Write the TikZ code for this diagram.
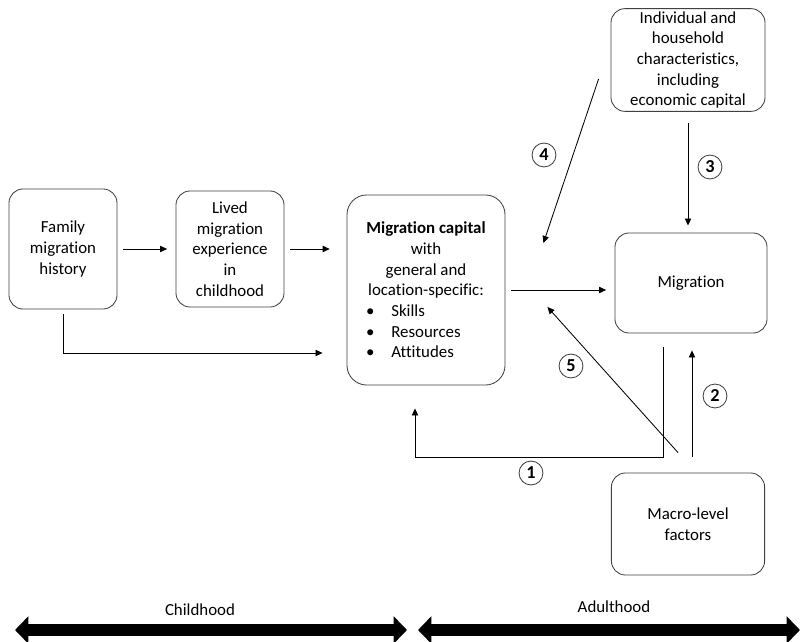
\documentclass[tikz,border=0pt]{standalone}
\usepackage{fontspec}
\setmainfont{Carlito}[Ligatures={NoCommon,NoContextual}]
\usepackage{tikz}
\usetikzlibrary{arrows.meta}
\usetikzlibrary{calc}
\usetikzlibrary{positioning}

\definecolor{boxgray}{HTML}{404040}
\newcommand{\capitem}[1]{\makebox[85pt][l]{\makebox[17.8pt][l]{\textbullet}#1}}

\begin{document}
\begin{tikzpicture}[x=0.025cm, y=-0.025cm,
	font=\fontsize{12pt}{14.7pt}\selectfont,
	lifespan/.style={line width=8.5pt, {Triangle[length=9.5pt,width=19pt]}-{Triangle[length=9.5pt,width=19pt]}}]
	\useasboundingbox (0,0) rectangle (801,642);

	\begin{scope}[every node/.style={draw=boxgray, rounded corners=10pt, align=center, line width=0.6pt, inner sep=2pt}]
		\node[minimum width=2.7cm, minimum height=3cm] (fam) at (63,249) {Family\\migration\\history};
		\node[minimum width=2.7cm, minimum height=2.9cm] (lived) at (230,249) {Lived\\migration\\experience\\in\\childhood};
		\node[minimum width=3.95cm, minimum height=4.75cm, rounded corners=14pt] (cap) at (426,290)
			{\textbf{Migration capital}\\with\\general and\\location-specific:\\\capitem{Skills}\\\capitem{Resources}\\\capitem{Attitudes}};
		\node[minimum width=3.85cm, minimum height=2.55cm] (ind) at (688,60) {Individual and\\household\\characteristics,\\including\\economic capital};
		\node[minimum width=3.8cm, minimum height=2.5cm] (mig) at (691,283) {Migration};
		\node[minimum width=3.83cm, minimum height=2.55cm] (mac) at (688,524) {Macro-level\\factors};
	\end{scope}

	\begin{scope}[every node/.style={circle, draw=boxgray, line width=0.6pt, inner sep=0pt, minimum size=17pt,
	              font=\fontsize{13pt}{15pt}\selectfont\bfseries}]
		\node (n1) at (531,473) {1};
		\node (n2) at (715,396) {2};
		\node (n3) at (710,167) {3};
		\node (n4) at (544,155) {4};
		\node (n5) at (571,366) {5};
	\end{scope}

	\coordinate (c4) at ($(cap.east)+(38,-47)$);
	\coordinate (c5) at ($(cap.east)+(42,17)$);

	\begin{scope}[>={Triangle[length=5pt,width=4.5pt]},
	              every edge/.style={draw=black, ->, line width=0.6pt}]
		\path (fam.east) edge[shorten <=4pt, shorten >=6pt] (fam.east -| lived.west);
		\path (lived.east) edge[shorten <=4pt, shorten >=12pt] (lived.east -| cap.west);
		\path (cap.east) edge[shorten <=4pt, shorten >=6pt] (cap.east -| mig.west);
		\path (ind.south) edge[shorten <=8pt, shorten >=5pt] (ind.south |- mig.north);
		\path ($(ind.west)+(-12,19)$) edge (c4);
		\path ($(mac.north)+(4,-16)$) edge ($(mig.south)+(1,17)$);
		\path ($(mac.north)+(-10,-20)$) edge (c5);
		\draw[->, line width=0.6pt] ($(fam.south)+(0,5)$) |- ($(cap.west)+(-24,63)$);
		\draw[->, line width=0.6pt] ($(mig.south)+(-28,14)$) -- ++(0,110) -| ($(cap.south)+(-11,23)$);
	\end{scope}

	% life phases
	\coordinate (childL) at (15,630);
	\coordinate (childR) at (407,630);
	\coordinate (adultL) at (418,630);
	\coordinate (adultR) at (800,630);
	\draw[lifespan] (childL) -- (childR);
	\draw[lifespan] (adultL) -- (adultR);
	\node (childlbl) at (200,610) {Childhood};
	\node (adultlbl) at (614,607) {Adulthood};
\end{tikzpicture}
\end{document}
